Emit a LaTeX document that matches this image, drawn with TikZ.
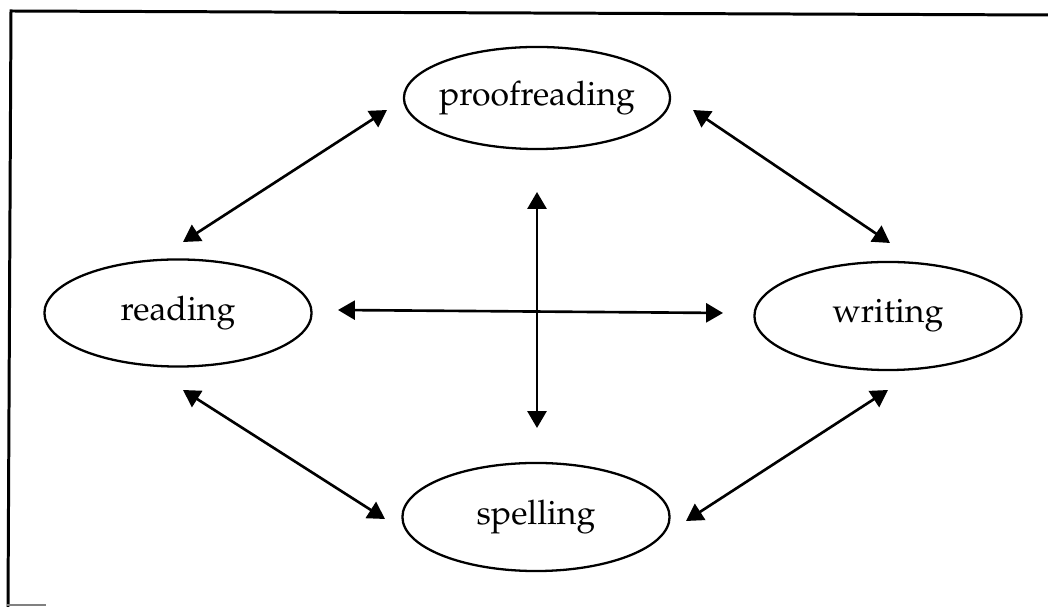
\documentclass[tikz,border=0pt]{standalone}
\usepackage[T1]{fontenc}
\usepackage{mathpazo}
\usetikzlibrary{shapes.geometric,arrows.meta}
\newcommand{\ovaltext}[1]{\makebox[0pt]{#1}}
\begin{document}
\begin{tikzpicture}[x=0.01cm,y=-0.01cm,
  oval/.style={ellipse,draw,line width=0.65pt,inner sep=0pt,font=\fontsize{9.6}{11}\selectfont},
  biarrow/.style={line width=0.75pt,{Triangle[length=4.8pt,width=5.4pt]}-{Triangle[length=4.8pt,width=5.4pt]}},
  frameline/.style={line width=0.85pt}]
\useasboundingbox (0,0) rectangle (1048,607);
% frame
\coordinate (f1) at (11,11);
\coordinate (f2) at (1048,15);
\coordinate (f3) at (8,607);
\draw[frameline] (f2) -- (f1) -- (f3);
\coordinate (b1) at (7,605);
\coordinate (b2) at (46,605);
\draw[line width=0.4pt,gray] (b1) -- (b2);
% nodes
\node[oval,minimum width=2.66cm,minimum height=1.02cm] (proof) at (537,98) {\ovaltext{proofreading}};
\node[oval,minimum width=2.67cm,minimum height=1.07cm] (read) at (178,313) {\ovaltext{reading}};
\node[oval,minimum width=2.67cm,minimum height=1.08cm] (write) at (888,316) {\ovaltext{writing}};
\node[oval,minimum width=2.67cm,minimum height=1.08cm] (spell) at (536,517) {\ovaltext{spelling}};
% arrow ends
\coordinate (pr1) at (387,110);
\coordinate (pr2) at (183,242);
\coordinate (pw1) at (693,110);
\coordinate (pw2) at (890,243);
\coordinate (rs1) at (183,390);
\coordinate (rs2) at (385,519);
\coordinate (ws1) at (888,390);
\coordinate (ws2) at (686,521);
\coordinate (v1) at (537,192);
\coordinate (v2) at (537,428);
\coordinate (h1) at (338,310);
\coordinate (h2) at (723,313);
\draw[biarrow] (pr1) -- (pr2);
\draw[biarrow] (pw1) -- (pw2);
\draw[biarrow] (rs1) -- (rs2);
\draw[biarrow] (ws1) -- (ws2);
\draw[biarrow] (v1) -- (v2);
\draw[biarrow] (h1) -- (h2);
\end{tikzpicture}
\end{document}
